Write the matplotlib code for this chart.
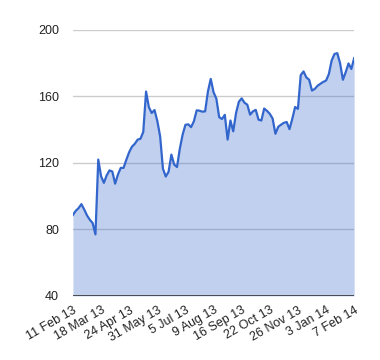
import numpy as np
import matplotlib
matplotlib.use('Agg')
import matplotlib.pyplot as plt

# values, one every ~2.5 trading days
values = [88.7, 91.2, 92.8, 95.2, 92.0, 88.4, 85.8, 83.8, 77.0, 122.0,
          112.0, 108.0, 112.5, 115.5, 114.8, 107.5, 113.0, 117.0, 117.0, 122.0,
          126.5, 129.8, 131.5, 134.0, 134.5, 138.6, 162.9, 153.5, 150.0, 151.8,
          145.2, 136.0, 116.5, 111.8, 114.6, 125.0, 119.0, 117.5, 128.5, 137.0,
          142.9, 143.2, 141.5, 145.0, 151.6, 151.4, 150.8, 151.0, 163.0, 170.5,
          162.5, 158.6, 147.5, 146.4, 148.9, 134.0, 145.5, 139.0, 150.0, 156.8,
          158.8, 156.2, 155.0, 149.0, 151.0, 151.9, 146.0, 145.5, 152.7, 151.3,
          149.5, 146.7, 137.5, 141.7, 143.0, 144.1, 144.6, 140.3, 146.5, 153.6,
          152.5, 172.8, 175.0, 171.4, 170.0, 163.5, 164.5, 166.4, 167.6, 168.7,
          169.5, 173.4, 181.6, 185.5, 186.0, 179.9, 170.0, 174.6, 179.8, 176.5,
          183.0]
date_labels = ['11 Feb 13', '18 Mar 13', '24 Apr 13', '31 May 13', '5 Jul 13',
               '9 Aug 13', '16 Sep 13', '22 Oct 13', '26 Nov 13', '3 Jan 14',
               '7 Feb 14']
y_ticks = [40, 80, 120, 160, 200]

plt.rcParams['font.family'] = ['Liberation Sans', 'DejaVu Sans']

x = np.arange(len(values))
fig = plt.figure(figsize=(3.8, 3.6), dpi=100)
ax = fig.add_axes([0.192, 0.178, 0.740, 0.739])

# gridlines first, translucent fill on top (so they show through)
for v in y_ticks[1:]:
    ax.axhline(v, color='#cccccc', lw=1, zorder=0)
ax.fill_between(x, values, 40, color='#3366cc', alpha=0.3, lw=0, zorder=1)
ax.plot(x, values, color='#3366cc', lw=1.6, zorder=2)
ax.axhline(40, color='#333333', lw=1.2, zorder=3)

ax.set_xlim(0, len(values) - 1)
ax.set_ylim(40, 200)
ax.set_yticks(y_ticks)
ax.set_yticklabels([str(v) for v in y_ticks], fontsize=9, color='#222222')

ax.set_xticks(np.arange(0, len(values), 10))
ax.set_xticklabels(date_labels, fontsize=9, color='#222222', rotation=30,
                   ha='right', rotation_mode='anchor')
ax.tick_params(length=0)
ax.tick_params(axis='y', pad=10)
ax.tick_params(axis='x', pad=6)
for s in ax.spines.values():
    s.set_visible(False)

fig.savefig('out.png', dpi=100)
